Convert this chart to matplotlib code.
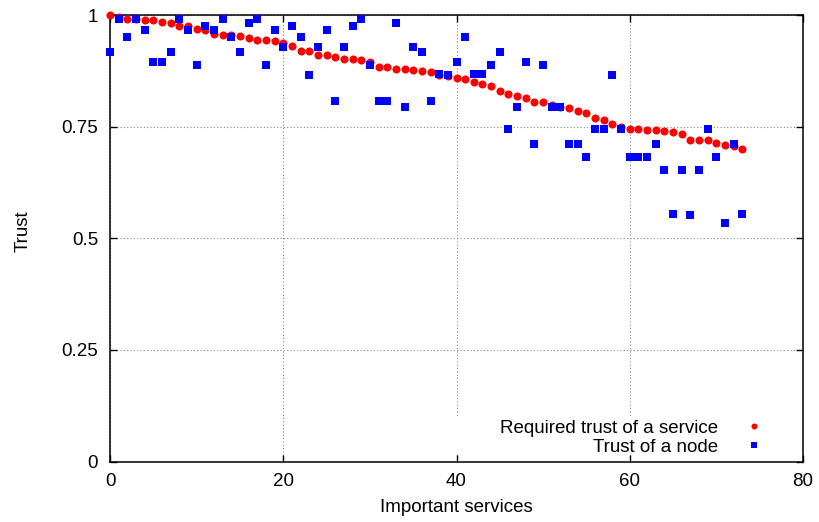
import matplotlib
matplotlib.use('Agg')
import matplotlib.pyplot as plt
from matplotlib.patches import Rectangle

plt.rcParams['font.family'] = ['Liberation Sans', 'DejaVu Sans']

services = list(range(74))

required_trust = [
    1.000, 0.995, 0.991, 0.990, 0.989, 0.989, 0.984, 0.982, 0.975, 0.975,
    0.969, 0.967, 0.957, 0.956, 0.956, 0.954, 0.948, 0.945, 0.945, 0.941,
    0.937, 0.931, 0.920, 0.919, 0.911, 0.910, 0.906, 0.901, 0.901, 0.900,
    0.895, 0.883, 0.883, 0.880, 0.879, 0.877, 0.874, 0.872, 0.865, 0.863,
    0.859, 0.856, 0.850, 0.846, 0.842, 0.830, 0.823, 0.818, 0.815, 0.806,
    0.805, 0.798, 0.795, 0.791, 0.786, 0.780, 0.770, 0.764, 0.756, 0.750,
    0.744, 0.744, 0.743, 0.743, 0.741, 0.737, 0.734, 0.721, 0.721, 0.721,
    0.714, 0.708, 0.706, 0.701,
]

node_trust = [
    0.917, 0.991, 0.951, 0.991, 0.966, 0.894, 0.894, 0.917, 0.991, 0.966,
    0.887, 0.975, 0.966, 0.992, 0.951, 0.917, 0.981, 0.992, 0.887, 0.966,
    0.928, 0.975, 0.951, 0.865, 0.928, 0.966, 0.807, 0.928, 0.975, 0.992,
    0.887, 0.807, 0.807, 0.981, 0.793, 0.928, 0.917, 0.807, 0.867, 0.865,
    0.894, 0.950, 0.867, 0.867, 0.887, 0.917, 0.744, 0.793, 0.894, 0.710,
    0.887, 0.793, 0.793, 0.710, 0.710, 0.681, 0.744, 0.744, 0.865, 0.744,
    0.681, 0.681, 0.681, 0.710, 0.652, 0.555, 0.652, 0.551, 0.652, 0.744,
    0.681, 0.535, 0.710, 0.555,
]

xticks = [0, 20, 40, 60, 80]
yticks = [0, 0.25, 0.5, 0.75, 1]
ytick_labels = ['0', '0.25', '0.5', '0.75', '1']


def main():
    fs = 13.5
    fig = plt.figure(figsize=(8.19, 5.22), dpi=100)
    ax = fig.add_axes([110 / 819, 1 - 461.5 / 522, 693 / 819, 446.5 / 522])

    ax.plot(services, required_trust, linestyle='none', marker='o',
            markersize=5.8, markeredgewidth=0, color='#ff0000',
            label='Required trust of a service', clip_on=False, zorder=3)
    ax.plot(services, node_trust, linestyle='none', marker='s',
            markersize=5.8, markeredgewidth=0, color='#0000ff',
            label='Trust of a node', clip_on=False, zorder=4)

    ax.set_xlim(0, 80)
    ax.set_ylim(0, 1)
    ax.set_xticks(xticks)
    ax.set_yticks(yticks)
    ax.set_yticklabels(ytick_labels)
    ax.tick_params(direction='in', length=5, width=1, top=True, right=True,
                   labelsize=fs, pad=8.5, color='black')

    ax.set_axisbelow(True)
    ax.grid(True, linestyle=(0, (1, 2)), linewidth=0.8, color='#888888')
    for sp in ax.spines.values():
        sp.set_linewidth(1.1)

    # opaque key area, hides the grid behind it (like gnuplot)
    ax.add_patch(Rectangle((0.49, 0.016), 0.5, 0.086, transform=ax.transAxes,
                           facecolor='white', edgecolor='none', zorder=1))

    ax.legend(loc='center right', bbox_to_anchor=(0.9433, 0.0535),
              frameon=False, borderpad=0, borderaxespad=0, markerfirst=False,
              handlelength=1.0, handletextpad=1.45, labelspacing=0.11,
              markerscale=0.75, fontsize=fs)

    ax.set_xlabel('Important services', fontsize=fs)
    ax.set_ylabel('Trust', fontsize=fs)
    ax.xaxis.set_label_coords(0.5, -0.083)
    ax.yaxis.set_label_coords(-0.1125, 0.516)

    fig.savefig('out.png', dpi=100)


if __name__ == '__main__':
    main()
